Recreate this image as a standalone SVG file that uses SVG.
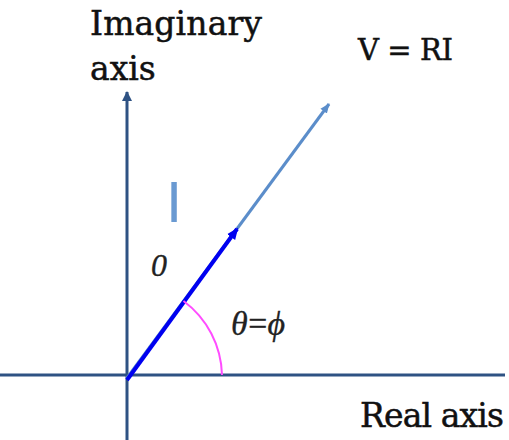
<svg xmlns="http://www.w3.org/2000/svg" width="509" height="440" viewBox="0 0 509 440">
<style>
.lbl{font-family:"DejaVu Serif","Liberation Serif",serif;fill:#111;stroke:#111;stroke-width:0.5}
.it{font-family:"Liberation Serif","DejaVu Serif",serif;font-style:italic;fill:#222;stroke:#222;stroke-width:0.3}
</style>
<defs>
<marker id="axh" markerWidth="10" markerHeight="10" refX="9" refY="5" orient="auto" markerUnits="userSpaceOnUse" viewBox="0 0 10 10">
<path d="M0,0 L10,5 L0,10 Z" fill="#2E5283"/>
</marker>
<marker id="vh" markerWidth="10" markerHeight="10" refX="9" refY="5" orient="auto" markerUnits="userSpaceOnUse" viewBox="0 0 10 10">
<path d="M0,1 L10,5 L0,9 Z" fill="#5B8DCA"/>
</marker>
<marker id="ih" markerWidth="12" markerHeight="12" refX="10" refY="6" orient="auto" markerUnits="userSpaceOnUse" viewBox="0 0 12 12">
<path d="M0,1 L12,6 L0,11 Z" fill="#0000F0"/>
</marker>
</defs>
<rect width="509" height="440" fill="#fff"/>
<g id="connectors">
<line id="real-axis" x1="0" y1="375" x2="505" y2="375" stroke="#2E5283" stroke-width="3"/>
<line id="imag-axis" x1="127" y1="440" x2="127" y2="92" stroke="#2E5283" stroke-width="3" marker-end="url(#axh)"/>
<line id="v-phasor" x1="127" y1="378" x2="329" y2="104" stroke="#5B8DCA" stroke-width="3" marker-end="url(#vh)"/>
<line id="i-phasor" x1="127" y1="380" x2="237" y2="229" stroke="#0000F0" stroke-width="4" marker-end="url(#ih)"/>
<path id="angle-arc" d="M183.5,301 A95,95 0 0 1 222,375" fill="none" stroke="#FF4CFF" stroke-width="2"/>
</g>
<g id="imag-label"><text class="lbl" x="90" y="35" font-size="33" textLength="172">Imaginary</text><text class="lbl" x="90" y="80" font-size="33">axis</text></g>
<g id="v-label"><text class="lbl" x="358" y="60" font-size="29" textLength="95">V = RI</text></g>
<g id="real-label"><text class="lbl" x="360" y="427" font-size="33" textLength="144">Real axis</text></g>
<g id="i-label"><text x="166" y="222" font-family="Liberation Sans,sans-serif" font-size="58" fill="#6A9AD2">I</text></g>
<g id="zero-label"><text class="it" x="151" y="276" font-size="32">0</text></g>
<g id="angle-label"><text class="it" x="231" y="335" font-size="34" textLength="54">θ=ϕ</text></g>
</svg>
